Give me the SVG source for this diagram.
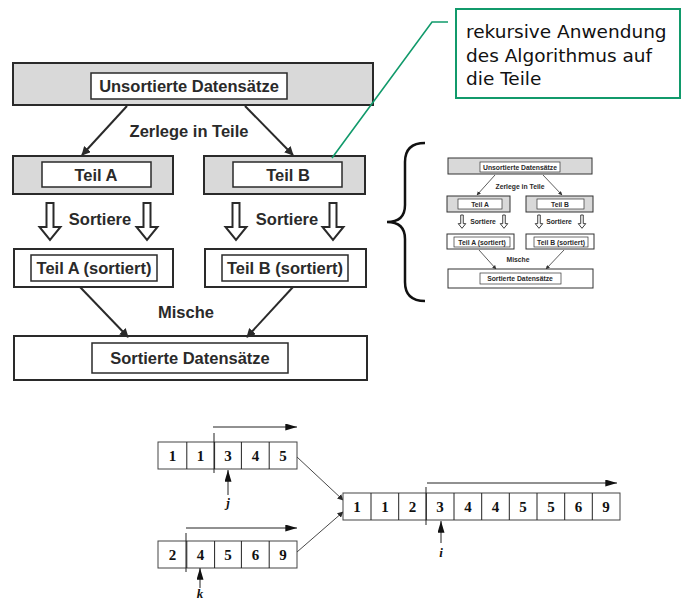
<svg xmlns="http://www.w3.org/2000/svg" width="682" height="600" viewBox="0 0 682 600">
<style>
.gbox{fill:#d9d9d9;stroke:#2a2a2a;stroke-width:2}
.wbox{fill:#fff;stroke:#2a2a2a;stroke-width:2}
.ibox{fill:#fff;stroke:#2a2a2a;stroke-width:1.5}
.t{font-family:"Liberation Sans",Arial,sans-serif;font-weight:bold;font-size:16.5px;fill:#2a2a2a;text-anchor:middle}
.ts{font-family:"Liberation Sans",Arial,sans-serif;font-weight:bold;font-size:6.8px;fill:#2a2a2a;text-anchor:middle}
.sgbox{fill:#d9d9d9;stroke:#333;stroke-width:1}
.swbox{fill:#fff;stroke:#333;stroke-width:1}
.sibox{fill:#fff;stroke:#333;stroke-width:0.7}
.conn{stroke:#2a2a2a;stroke-width:2;fill:none}
.sconn{stroke:#333;stroke-width:0.8;fill:none}
.hollow{fill:#fff;stroke:#2a2a2a;stroke-width:2;stroke-linejoin:miter}
.cell{fill:#fff;stroke:#444;stroke-width:1}
.d{font-family:"Liberation Serif","Times New Roman",serif;font-weight:bold;font-size:15px;fill:#111;text-anchor:middle}
.v{font-family:"Liberation Serif","Times New Roman",serif;font-style:italic;font-weight:bold;font-size:13px;fill:#111;text-anchor:middle}
.ln{stroke:#222;stroke-width:1;fill:none}
.call{font-family:"DejaVu Sans",Verdana,sans-serif;font-size:18.5px;fill:#111}
</style>
<defs>
<marker id="ahb" viewBox="0 0 10 10" refX="9" refY="5" markerWidth="9" markerHeight="9" markerUnits="userSpaceOnUse" orient="auto"><path d="M0,0 L10,5 L0,10 z" fill="#2a2a2a"/></marker>
<marker id="ah" viewBox="0 0 10 10" refX="9" refY="5" markerWidth="6" markerHeight="6" markerUnits="userSpaceOnUse" orient="auto"><path d="M0,0 L10,5 L0,10 z" fill="#2a2a2a"/></marker>
<marker id="ahs" viewBox="0 0 10 10" refX="9" refY="5" markerWidth="4" markerHeight="4" markerUnits="userSpaceOnUse" orient="auto"><path d="M0,0 L10,5 L0,10 z" fill="#333"/></marker>
<marker id="ah2" viewBox="0 0 10 6" refX="10" refY="3" markerWidth="13" markerHeight="7" markerUnits="userSpaceOnUse" orient="auto"><path d="M0,0 L10,3 L0,6 z" fill="#111"/></marker>
<marker id="ah3" viewBox="0 0 10 6" refX="10" refY="3" markerWidth="12" markerHeight="7" markerUnits="userSpaceOnUse" orient="auto"><path d="M0,0 L10,3 L0,6 z" fill="#111"/></marker>
<path id="ha" d="M-3.5,0 h7 v24 h7 l-10.5,13 l-10.5,-13 h7 z"/>
</defs>

<!-- Big diagram -->
<g id="unsortiert">
<rect class="gbox" x="13" y="63" width="360" height="42"/>
<rect class="ibox" x="91" y="73" width="196" height="26"/>
<text class="t" x="189" y="92">Unsortierte Datensätze</text>
</g>
<g id="teilA">
<rect class="gbox" x="13" y="156" width="160" height="38"/>
<rect class="ibox" x="42" y="162" width="109" height="25"/>
<text class="t" x="96" y="181">Teil A</text>
</g>
<g id="teilB">
<rect class="gbox" x="204" y="156" width="161" height="38"/>
<rect class="ibox" x="233" y="162" width="109" height="25"/>
<text class="t" x="288" y="181">Teil B</text>
</g>
<g id="teilAsort">
<rect class="wbox" x="14" y="249" width="159" height="38"/>
<rect class="ibox" x="31" y="255" width="126" height="26"/>
<text class="t" x="94" y="274">Teil A (sortiert)</text>
</g>
<g id="teilBsort">
<rect class="wbox" x="205" y="249" width="161" height="38"/>
<rect class="ibox" x="222" y="255" width="126" height="26"/>
<text class="t" x="285" y="274">Teil B (sortiert)</text>
</g>
<g id="sortiert">
<rect class="wbox" x="14" y="336" width="353" height="44"/>
<rect class="ibox" x="92" y="343" width="196" height="30"/>
<text class="t" x="190" y="364">Sortierte Datensätze</text>
</g>

<g id="connectors">
<line class="conn" x1="127" y1="106" x2="82" y2="155" marker-end="url(#ahb)"/>
<line class="conn" x1="245" y1="106" x2="293" y2="155" marker-end="url(#ahb)"/>
<line class="conn" x1="80" y1="287" x2="128" y2="337" marker-end="url(#ahb)"/>
<line class="conn" x1="293" y1="287" x2="247" y2="337" marker-end="url(#ahb)"/>
<use href="#ha" class="hollow" x="50" y="203"/>
<use href="#ha" class="hollow" x="147" y="203"/>
<use href="#ha" class="hollow" x="236" y="203"/>
<use href="#ha" class="hollow" x="333" y="203"/>
<text class="t" x="189" y="137">Zerlege in Teile</text>
<text class="t" x="100" y="225">Sortiere</text>
<text class="t" x="287" y="225">Sortiere</text>
<text class="t" x="186" y="318">Mische</text>

<!-- callout leader -->
<polyline points="332,158 432,22 448,22" fill="none" stroke="#119a6b" stroke-width="1.6"/>

<!-- brace -->
<path d="M425,143 Q405,143 405,162 L405,205 Q405,222 387,222 Q405,222 405,239 L405,282 Q405,301 425,301" fill="none" stroke="#111" stroke-width="2.5"/>

<!-- small diagram connectors -->
<line class="sconn" x1="495" y1="175" x2="477" y2="195" marker-end="url(#ahs)"/>
<line class="sconn" x1="543" y1="175" x2="562" y2="195" marker-end="url(#ahs)"/>
<line class="sconn" x1="479" y1="250" x2="496" y2="269" marker-end="url(#ahs)"/>
<line class="sconn" x1="564" y1="250" x2="546" y2="269" marker-end="url(#ahs)"/>
<use href="#ha" class="hollow" transform="translate(462,215) scale(0.36)" style="stroke-width:2.5"/>
<use href="#ha" class="hollow" transform="translate(504,215) scale(0.36)" style="stroke-width:2.5"/>
<use href="#ha" class="hollow" transform="translate(539,215) scale(0.36)" style="stroke-width:2.5"/>
<use href="#ha" class="hollow" transform="translate(582,215) scale(0.36)" style="stroke-width:2.5"/>
<text class="ts" x="520" y="189">Zerlege in Teile</text>
<text class="ts" x="483" y="224">Sortiere</text>
<text class="ts" x="559" y="224">Sortiere</text>
<text class="ts" x="518" y="262">Mische</text>

<!-- array connectors -->
<line x1="297" y1="457" x2="343" y2="500" stroke="#333" stroke-width="0.9" marker-end="url(#ah)"/>
<line x1="297" y1="552" x2="343" y2="512" stroke="#333" stroke-width="0.9" marker-end="url(#ah)"/>
</g>

<g id="callout">
<rect x="456" y="9" width="224" height="89" fill="#fff" stroke="#119a6b" stroke-width="2"/>
<text class="call" x="466" y="38">rekursive Anwendung</text>
<text class="call" x="466" y="62">des Algorithmus auf</text>
<text class="call" x="466" y="85">die Teile</text>
</g>

<!-- small diagram nodes -->
<g id="s-unsortiert">
<rect class="sgbox" x="448" y="158" width="144" height="16"/>
<rect class="sibox" x="480" y="162" width="80" height="10"/>
<text class="ts" x="520" y="169.5">Unsortierte Datensätze</text>
</g>
<g id="s-teilA">
<rect class="sgbox" x="447" y="196" width="63" height="16"/>
<rect class="sibox" x="458" y="199" width="44" height="10"/>
<text class="ts" x="480" y="206.5">Teil A</text>
</g>
<g id="s-teilB">
<rect class="sgbox" x="526" y="196" width="67" height="16"/>
<rect class="sibox" x="537" y="199" width="47" height="10"/>
<text class="ts" x="560" y="206.5">Teil B</text>
</g>
<g id="s-teilAsort">
<rect class="swbox" x="447" y="234" width="67" height="15"/>
<rect class="sibox" x="454" y="237" width="56" height="10"/>
<text class="ts" x="482" y="244.5">Teil A (sortiert)</text>
</g>
<g id="s-teilBsort">
<rect class="swbox" x="526" y="234" width="68" height="15"/>
<rect class="sibox" x="534" y="237" width="54" height="10"/>
<text class="ts" x="561" y="244.5">Teil B (sortiert)</text>
</g>
<g id="s-sortiert">
<rect class="swbox" x="448" y="269" width="145" height="19"/>
<rect class="sibox" x="480" y="273" width="81" height="11"/>
<text class="ts" x="520" y="281">Sortierte Datensätze</text>
</g>

<!-- arrays -->
<g id="array-top">
<rect class="cell" x="158" y="442" width="139" height="27"/>
<path class="ln" d="M186.8,442 v27 M214.6,442 v27 M241.4,442 v27 M269.2,442 v27"/>
<text class="d" x="172.5" y="461">1</text>
<text class="d" x="200.5" y="461">1</text>
<text class="d" x="228" y="461">3</text>
<text class="d" x="255.5" y="461">4</text>
<text class="d" x="283" y="461">5</text>
<line class="ln" x1="214" y1="433" x2="214" y2="473"/>
<line class="ln" x1="213" y1="427" x2="297" y2="427" marker-end="url(#ah2)"/>
<line class="ln" x1="228" y1="495" x2="228" y2="470" marker-end="url(#ah3)"/>
<text class="v" x="228" y="507">j</text>
</g>
<g id="array-bottom">
<rect class="cell" x="158" y="541" width="139" height="27"/>
<path class="ln" d="M186.8,541 v27 M214.6,541 v27 M241.4,541 v27 M269.2,541 v27"/>
<text class="d" x="172.5" y="560">2</text>
<text class="d" x="200.5" y="560">4</text>
<text class="d" x="228" y="560">5</text>
<text class="d" x="255.5" y="560">6</text>
<text class="d" x="283" y="560">9</text>
<line class="ln" x1="186" y1="533" x2="186" y2="572"/>
<line class="ln" x1="186" y1="528" x2="297" y2="528" marker-end="url(#ah2)"/>
<line class="ln" x1="200" y1="588" x2="200" y2="568" marker-end="url(#ah3)"/>
<text class="v" x="200" y="598">k</text>
</g>
<g id="array-merged">
<rect class="cell" x="343" y="493" width="277" height="27"/>
<path class="ln" d="M371,493 v27 M398.7,493 v27 M426.3,493 v27 M454,493 v27 M481.7,493 v27 M509.3,493 v27 M537,493 v27 M564.7,493 v27 M592.3,493 v27"/>
<text class="d" x="357" y="512">1</text>
<text class="d" x="385" y="512">1</text>
<text class="d" x="412.5" y="512">2</text>
<text class="d" x="440" y="512">3</text>
<text class="d" x="468" y="512">4</text>
<text class="d" x="495.5" y="512">4</text>
<text class="d" x="523" y="512">5</text>
<text class="d" x="551" y="512">5</text>
<text class="d" x="578.5" y="512">6</text>
<text class="d" x="606" y="512">9</text>
<line class="ln" x1="426" y1="487" x2="426" y2="525"/>
<line class="ln" x1="427" y1="483" x2="617" y2="483" marker-end="url(#ah2)"/>
<line class="ln" x1="441" y1="543" x2="441" y2="521" marker-end="url(#ah3)"/>
<text class="v" x="441" y="557">i</text>
</g>
</svg>
